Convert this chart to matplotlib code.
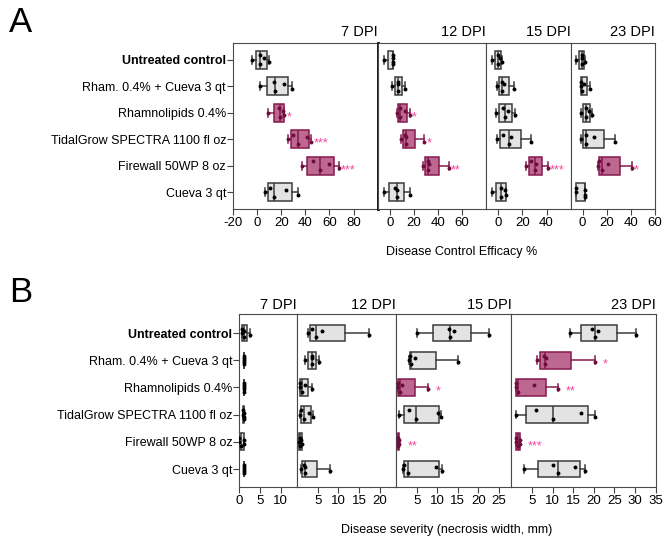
import numpy as np
import matplotlib.pyplot as plt

plt.rcParams['font.family'] = ['Liberation Sans', 'DejaVu Sans']
plt.rcParams['axes.unicode_minus'] = False

# treatments, top to bottom
treatments = ['Untreated control', 'Rham. 0.4% + Cueva 3 qt', 'Rhamnolipids 0.4%',
              'TidalGrow SPECTRA 1100 fl oz', 'Firewall 50WP 8 oz', 'Cueva 3 qt']
dpi_labels = ['7 DPI', '12 DPI', '15 DPI', '23 DPI']

# A: disease control efficacy (%), one list of replicate values per treatment
eff_7dpi = [[-4.5, 2.5, 2.5, 6, 10], [2.5, 14, 14.5, 22, 29], [9.4, 17.8, 19, 21.5, 22.5],
            [25.5, 30, 34, 41, 45], [37, 46, 52, 59.5, 68], [6.7, 10.5, 14.4, 24, 34]]
eff_12dpi = [[-4.7, 2.3, 2.5, 2.8, 2.8], [1.7, 6.5, 6.7, 6.9, 13], [5.6, 8.2, 8.9, 12.5, 16.9],
             [9.2, 13, 13.3, 13.5, 28.6], [27.2, 31.4, 31.4, 32.2, 49], [-4.7, 4.1, 6, 6.1, 16.9]]
eff_15dpi = [[-5.5, -0.5, -0.5, 1.6, 2.8], [-1, 3, 3.2, 4.5, 13.3], [-2, 3.6, 5.8, 8, 14],
             [-1.4, 4.2, 9.2, 10.3, 27.5], [23.3, 27.3, 30.8, 31.2, 41], [-5.5, 2.1, 2.2, 5.5, 6.7]]
eff_23dpi = [[-5.3, -0.8, -0.7, -0.6, 2.2], [-1.7, -1.7, -0.3, 1.4, 5.8], [-1.7, 2.9, 3, 5, 7.8],
             [-1.7, 2.5, 2.6, 9.2, 26.4], [12.8, 13.8, 16.4, 20.6, 40.6], [-5.3, -5.3, 2.2, 2.2, 2.2]]
eff_sig = [['', '', '*', '***', '***', ''],
           ['', '', '*', '*', '**', ''],
           ['', '', '', '', '***', ''],
           ['', '', '', '', '*', '']]

# B: disease severity (necrosis width, mm)
sev_7dpi = [[0.66, 0.66, 1, 1, 2.6], [1, 1, 1, 1, 1], [1, 1, 1, 1, 1],
            [0.8, 0.8, 1, 1, 1], [0, 0, 0.5, 1, 1], [1, 1, 1, 1, 1]]
sev_12dpi = [[2.7, 3.7, 4.6, 6, 17.4], [1.9, 3.5, 3.6, 3.7, 5.4], [0.76, 0.8, 1.2, 1.9, 3.5],
             [0.8, 1, 1.7, 2.9, 3.9], [0.4, 0.6, 0.8, 1, 1.2], [0.9, 1.6, 1.8, 1.8, 8]]
sev_15dpi = [[5.2, 12.8, 13, 14.1, 22.5], [3.2, 3.4, 3.6, 4.6, 15], [0.6, 0.6, 0.9, 1.5, 7.7],
             [0.7, 3.1, 4.9, 10.1, 10.9], [0.5, 0.5, 0.6, 0.7, 0.7], [1.8, 2, 2.8, 9.8, 11.2]]
sev_23dpi = [[14.1, 19.5, 20.2, 21.1, 30.3], [6.1, 8, 8.1, 8.5, 20.2], [1, 1, 1.5, 5.4, 11.2],
             [1, 6, 10, 17, 20.2], [1, 1, 1.5, 2, 2], [3.1, 10, 11.2, 15.5, 17.8]]
sev_sig = [['', '', '', '', '', ''],
           ['', '', '', '', '', ''],
           ['', '', '*', '', '**', ''],
           ['', '*', '**', '', '***', '']]

eff_xlim = [(-20, 100), (-10, 80), (-10, 60), (-10, 60)]
eff_ticks = [[-20, 0, 20, 40, 60, 80], [0, 20, 40, 60], [0, 20, 40], [0, 20, 40, 60]]
sev_xlim = [(0, 14), (0, 24), (0, 28), (0, 35)]
sev_ticks = [[0, 5, 10], [5, 10, 15, 20], [5, 10, 15, 20, 25], [5, 10, 15, 20, 25, 30, 35]]

grey_face, grey_edge = '#e3e3e3', '#3c3c3c'
pink_face, pink_edge = '#bd6890', '#861a50'
star_col = '#f2479c'
jitter = np.array([0.0, -0.16, 0.16, -0.08, 0.08])


def draw_panel(ax, groups, sig, star_dx, box_w):
    stats = []
    for g in groups:
        q1, med, q3 = np.percentile(g, [25, 50, 75], method='weibull')
        stats.append(dict(med=med, q1=q1, q3=q3, whislo=min(g), whishi=max(g), fliers=[]))
    pos = np.arange(len(groups))
    art = ax.bxp(stats, positions=pos, widths=box_w, orientation='horizontal',
                 patch_artist=True, showfliers=False, capwidths=box_w * 0.45)
    for i, g in enumerate(groups):
        hit = sig[i] != ''
        fc, ec = (pink_face, pink_edge) if hit else (grey_face, grey_edge)
        art['boxes'][i].set(facecolor=fc, edgecolor=ec, linewidth=1.1)
        art['medians'][i].set(color=ec, linewidth=1.1)
        for ln in art['whiskers'][2 * i:2 * i + 2] + art['caps'][2 * i:2 * i + 2]:
            ln.set(color=ec, linewidth=1.1)
        ax.scatter(g, pos[i] + jitter[:len(g)] * box_w / 0.65, s=8,
                   color='#6e0c3e' if hit else 'black', zorder=3, linewidths=0)
        if hit:
            ax.annotate(sig[i], (max(g), pos[i]), xytext=(star_dx, -3),
                        textcoords='offset points', ha='left', va='center',
                        color=star_col, fontsize=9)


fig = plt.figure(figsize=(6.65, 5.39), dpi=100)

gsa = fig.add_gridspec(1, 4, left=0.3504, right=0.985, top=0.920, bottom=0.612,
                       wspace=0, width_ratios=[r[1] - r[0] for r in eff_xlim])
gsb = fig.add_gridspec(1, 4, left=0.360, right=0.986, top=0.418, bottom=0.097,
                       wspace=0, width_ratios=[r[1] - r[0] for r in sev_xlim])

panels = [(gsa, [eff_7dpi, eff_12dpi, eff_15dpi, eff_23dpi], eff_sig, eff_xlim, eff_ticks,
           (5.63, -0.63), 1.5, 0.68, 5),
          (gsb, [sev_7dpi, sev_12dpi, sev_15dpi, sev_23dpi], sev_sig, sev_xlim, sev_ticks,
           (5.65, -0.71), 6, 0.62, 3.5)]

for gs, data, sig, xlims, ticks, ylim, sdx, bw, tpad in panels:
    for k in range(4):
        ax = fig.add_subplot(gs[0, k])
        draw_panel(ax, data[k], sig[k], sdx, bw)
        ax.set_xlim(*xlims[k])
        ax.set_ylim(*ylim)
        ax.set_xticks(ticks[k])
        ax.tick_params(axis='x', labelsize=9.5, length=4, color='#444', pad=2)
        for sp in ax.spines.values():
            sp.set_color('#4a4a4a')
        ax.set_title(dpi_labels[k], loc='right', fontsize=10.5, pad=tpad)
        if k == 0:
            ax.set_yticks(range(6))
            ax.set_yticklabels(treatments, fontsize=9)
            ax.get_yticklabels()[0].set_fontweight('bold')
            ax.tick_params(axis='y', length=4, color='#444', pad=1)
            if gs is gsa:
                ax.spines['right'].set_linewidth(2)
                ax.spines['right'].set_color('black')
                ax.spines['right'].set_zorder(5)
        else:
            ax.set_yticks([])

fig.text(462 / 665, 1 - 252 / 539, 'Disease Control Efficacy %', ha='center', va='center',
         fontsize=9)
fig.text(447 / 665, 1 - 530 / 539, 'Disease severity (necrosis width, mm)', ha='center',
         va='center', fontsize=9)
fig.text(0.014, 0.988, 'A', fontsize=25, va='top', ha='left')
fig.text(0.014, 0.488, 'B', fontsize=25, va='top', ha='left')

fig.savefig('out.png', dpi=100)
